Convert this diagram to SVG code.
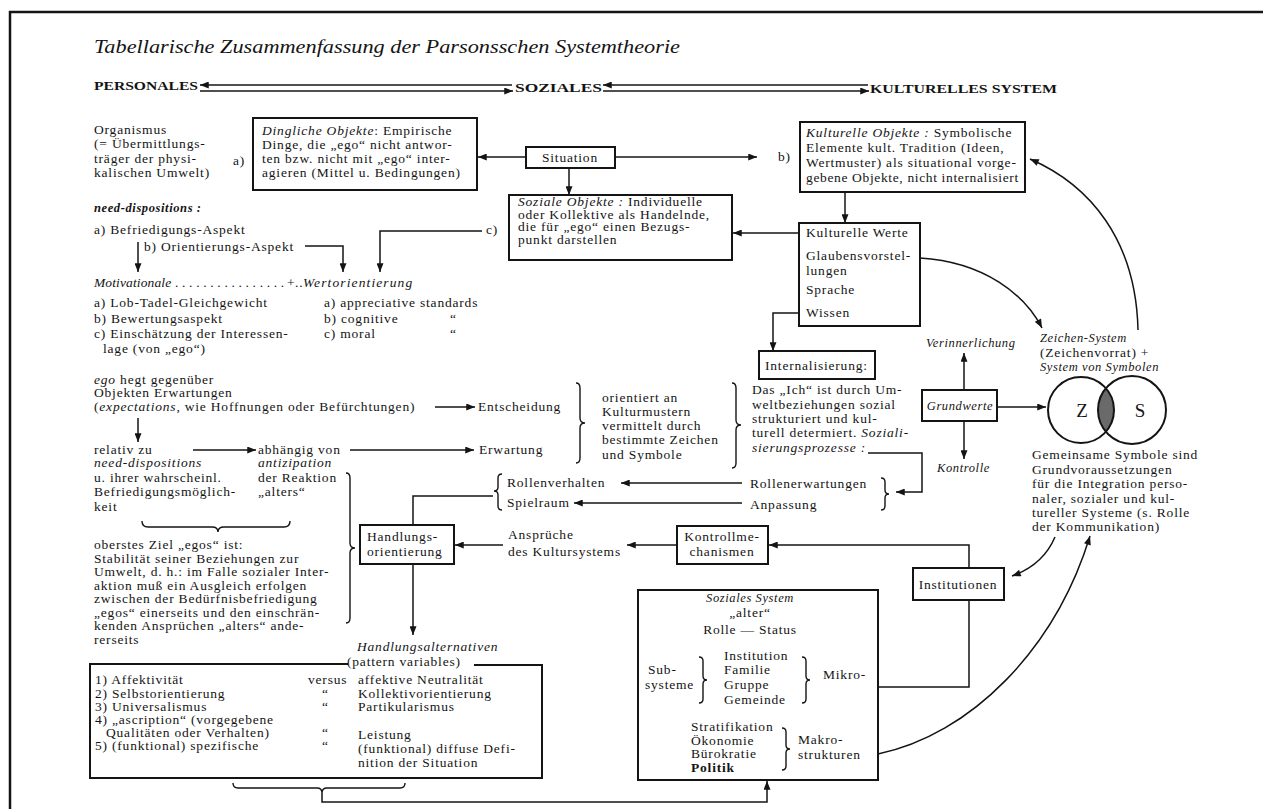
<svg xmlns="http://www.w3.org/2000/svg" width="1263" height="809" viewBox="0 0 1263 809">
  <style>
    text { font-family: "Liberation Serif", "Times New Roman", serif; font-size: 13.5px; letter-spacing: 0.8px; fill: #141414; }
    .i { font-style: italic; }
    .b { font-weight: bold; }
    .cap { font-size: 13px; letter-spacing: 0; font-weight: bold; }
    .m { text-anchor: middle; }
    .sm { font-size: 12.5px; letter-spacing: 0.6px; }
    .box { fill: #fff; stroke: #141414; stroke-width: 2; }
    .ln { fill: none; stroke: #141414; stroke-width: 1.5; }
    .ar { fill: none; stroke: #141414; stroke-width: 1.5; marker-end: url(#arrow); }
    .br { fill: none; stroke: #141414; stroke-width: 1.4; }
  </style>
  <defs>
    <marker id="arrow" viewBox="0 0 10 8" refX="10" refY="4" markerWidth="10" markerHeight="7" markerUnits="userSpaceOnUse" orient="auto">
      <path d="M0,0 L10,4 L0,8 z" fill="#141414"/>
    </marker>
    <clipPath id="zclip"><circle cx="1081" cy="410" r="33"/></clipPath>
  </defs>

  <rect width="1263" height="809" fill="#fff"/>
  <!-- page frame -->
  <path d="M10,809 V12 H1263" fill="none" stroke="#141414" stroke-width="2.5"/>

  <text x="94" y="53" class="i" style="font-size:18px;letter-spacing:0" textLength="586" lengthAdjust="spacingAndGlyphs">Tabellarische Zusammenfassung der Parsonsschen Systemtheorie</text>

  <!-- system headings -->
  <g id="personales"><text x="94" y="90" class="cap" textLength="104" lengthAdjust="spacingAndGlyphs">PERSONALES</text></g>
  <g id="soziales"><text x="515" y="92" class="cap" textLength="87" lengthAdjust="spacingAndGlyphs">SOZIALES</text></g>
  <g id="kulturelles"><text x="870" y="93" class="cap" textLength="187" lengthAdjust="spacingAndGlyphs">KULTURELLES SYSTEM</text></g>

  <!-- left column: organism and need-dispositions -->
  <g id="organismus">
    <text x="94" y="134">Organismus</text>
    <text x="94" y="148">(= Übermittlungs-</text>
    <text x="94" y="163">träger der physi-</text>
    <text x="94" y="177">kalischen Umwelt)</text>
  </g>
  <text x="233" y="165">a)</text>

  <g id="dingliche">
    <rect class="box" x="253" y="118" width="224" height="72"/>
    <text x="262" y="135"><tspan class="i">Dingliche Objekte</tspan>: Empirische</text>
    <text x="262" y="149">Dinge, die „ego“ nicht antwor-</text>
    <text x="262" y="163">ten bzw. nicht mit „ego“ inter-</text>
    <text x="262" y="177">agieren (Mittel u. Bedingungen)</text>
  </g>

  <g id="situation">
    <rect class="box" x="526" y="147" width="89" height="21"/>
    <text x="570" y="162" class="m">Situation</text>
  </g>
  <text x="778" y="161">b)</text>

  <g id="kulturelle-objekte">
    <rect class="box" x="800" y="122" width="225" height="70"/>
    <text x="806" y="137"><tspan class="i">Kulturelle Objekte :</tspan> Symbolische</text>
    <text x="806" y="152">Elemente kult. Tradition (Ideen,</text>
    <text x="806" y="167">Wertmuster) als situational vorge-</text>
    <text x="806" y="182" textLength="213">gebene Objekte, nicht internalisiert</text>
  </g>

  <g id="soziale-objekte">
    <rect class="box" x="509" y="195" width="223" height="65"/>
    <text x="518" y="206"><tspan class="i">Soziale Objekte :</tspan> Individuelle</text>
    <text x="518" y="218.5">oder Kollektive als Handelnde,</text>
    <text x="518" y="231">die für „ego“ einen Bezugs-</text>
    <text x="518" y="243.5">punkt darstellen</text>
  </g>
  <text x="486" y="234">c)</text>

  <g id="need-dispositions">
    <text x="94" y="212" class="i b sm">need-dispositions :</text>
    <text x="94" y="234">a) Befriedigungs-Aspekt</text>
    <text x="144" y="251">b) Orientierungs-Aspekt</text>
  </g>

  <g id="motivationale">
    <text x="94" y="287" class="i" textLength="78">Motivationale</text>
    <text x="175" y="287" textLength="110">................</text>
    <text x="287" y="287">+</text>
    <text x="295" y="287">..</text>
    <text x="303" y="287" class="i" textLength="110">Wertorientierung</text>
    <text x="94" y="307">a) Lob-Tadel-Gleichgewicht</text>
    <text x="94" y="323">b) Bewertungsaspekt</text>
    <text x="94" y="338">c) Einschätzung der Interessen-</text>
    <text x="103" y="353">lage (von „ego“)</text>
    <text x="324" y="307">a) appreciative standards</text>
    <text x="324" y="323">b) cognitive</text>
    <text x="324" y="338">c) moral</text>
    <text x="450" y="323">“</text>
    <text x="450" y="338">“</text>
  </g>

  <g id="ego-erwartungen">
    <text x="94" y="384"><tspan class="i">ego</tspan> hegt gegenüber</text>
    <text x="94" y="397">Objekten Erwartungen</text>
    <text x="94" y="411">(<tspan class="i">expectations</tspan>, wie Hoffnungen oder Befürchtungen)</text>
  </g>
  <g id="entscheidung"><text x="478" y="411">Entscheidung</text></g>

  <g id="relativ">
    <text x="94" y="454">relativ zu</text>
    <text x="94" y="467" class="i">need-dispositions</text>
    <text x="94" y="482">u. ihrer wahrscheinl.</text>
    <text x="94" y="496">Befriedigungsmöglich-</text>
    <text x="94" y="511">keit</text>
  </g>
  <g id="abhaengig">
    <text x="258" y="454">abhängig von</text>
    <text x="258" y="467" class="i">antizipation</text>
    <text x="258" y="482">der Reaktion</text>
    <text x="258" y="496">„alters“</text>
  </g>
  <g id="erwartung"><text x="479" y="454">Erwartung</text></g>

  <g id="oberstes-ziel">
    <text x="94" y="549">oberstes Ziel „egos“ ist:</text>
    <text x="94" y="562.5">Stabilität seiner Beziehungen zur</text>
    <text x="94" y="576">Umwelt, d. h.: im Falle sozialer Inter-</text>
    <text x="94" y="589.5">aktion muß ein Ausgleich erfolgen</text>
    <text x="94" y="603">zwischen der Bedürfnisbefriedigung</text>
    <text x="94" y="616.5">„egos“ einerseits und den einschrän-</text>
    <text x="94" y="630">kenden Ansprüchen „alters“ ande-</text>
    <text x="94" y="643.5">rerseits</text>
  </g>

  <g id="handlungsorientierung">
    <rect class="box" x="360" y="525" width="94" height="39"/>
    <text x="367" y="541">Handlungs-</text>
    <text x="367" y="556">orientierung</text>
  </g>

  <g id="handlungsalternativen">
    <text x="357" y="651" class="i">Handlungsalternativen</text>
    <text x="347" y="666">(pattern variables)</text>
    <path d="M348,664 H90 V778 H542 V665 H474" fill="none" stroke="#141414" stroke-width="2"/>
    <text x="95" y="684">1) Affektivität</text>
    <text x="95" y="697.5">2) Selbstorientierung</text>
    <text x="95" y="711">3) Universalismus</text>
    <text x="95" y="724">4) „ascription“ (vorgegebene</text>
    <text x="106" y="737">Qualitäten oder Verhalten)</text>
    <text x="95" y="750">5) (funktional) spezifische</text>
    <text x="308" y="684">versus</text>
    <text x="322" y="697.5">“</text>
    <text x="322" y="711">“</text>
    <text x="322" y="737">“</text>
    <text x="322" y="750">“</text>
    <text x="358" y="684">affektive Neutralität</text>
    <text x="358" y="697.5">Kollektivorientierung</text>
    <text x="358" y="711">Partikularismus</text>
    <text x="358" y="739">Leistung</text>
    <text x="358" y="753">(funktional) diffuse Defi-</text>
    <text x="358" y="767">nition der Situation</text>
  </g>

  <g id="rollen">
    <text x="507" y="487">Rollenverhalten</text>
    <text x="507" y="507">Spielraum</text>
    <path class="br" d="M502,474 Q498,474 498,478 V487 Q498,491 494,491 Q498,491 498,495 V506 Q498,510 502,510"/>
  </g>
  <g id="rollenerwartungen">
    <text x="750" y="488">Rollenerwartungen</text>
    <text x="750" y="509">Anpassung</text>
    <path class="br" d="M881,478 Q885,478 885,482 V490 Q885,494 889,494 Q885,494 885,498 V506 Q885,510 881,510"/>
  </g>

  <g id="orientiert">
    <path class="br" d="M576,383 Q580,383 580,388 V418 Q580,423 585,423 Q580,423 580,428 V458 Q580,463 576,463"/>
    <text x="602" y="402">orientiert an</text>
    <text x="602" y="416">Kulturmustern</text>
    <text x="602" y="429.5">vermittelt durch</text>
    <text x="602" y="444">bestimmte Zeichen</text>
    <text x="602" y="459">und Symbole</text>
    <path class="br" d="M732,383 Q736,383 736,388 V420 Q736,425 741,425 Q736,425 736,430 V463 Q736,468 732,468"/>
  </g>

  <g id="das-ich">
    <text x="752" y="394">Das „Ich“ ist durch Um-</text>
    <text x="752" y="408.5">weltbeziehungen sozial</text>
    <text x="752" y="422.5">strukturiert und kul-</text>
    <text x="752" y="437">turell determiert. <tspan class="i">Soziali-</tspan></text>
    <text x="752" y="452" class="i">sierungsprozesse :</text>
  </g>

  <g id="internalisierung">
    <rect class="box" x="759" y="351" width="116" height="28"/>
    <text x="765" y="370">Internalisierung:</text>
  </g>

  <g id="kulturelle-werte">
    <rect class="box" x="799" y="223" width="121" height="103"/>
    <text x="806" y="237">Kulturelle Werte</text>
    <text x="806" y="260">Glaubensvorstel-</text>
    <text x="806" y="275">lungen</text>
    <text x="806" y="294">Sprache</text>
    <text x="806" y="317">Wissen</text>
  </g>

  <g id="grundwerte">
    <rect class="box" x="922" y="390" width="75" height="31"/>
    <text x="960" y="410" class="i m sm">Grundwerte</text>
    <text x="926" y="347" class="i sm">Verinnerlichung</text>
    <text x="937" y="472" class="i sm">Kontrolle</text>
  </g>

  <g id="zeichen-system">
    <text x="1040" y="342" class="i sm">Zeichen-System</text>
    <text x="1040" y="356.5">(Zeichenvorrat) +</text>
    <text x="1040" y="371" class="i sm">System von Symbolen</text>
    <circle cx="1132" cy="410" r="34" fill="#6a6a6a" clip-path="url(#zclip)"/>
    <circle cx="1081" cy="410" r="33" fill="none" stroke="#141414" stroke-width="2"/>
    <circle cx="1132" cy="410" r="34" fill="none" stroke="#141414" stroke-width="2"/>
    <text x="1082" y="417" class="m" style="font-size:19px;letter-spacing:0">Z</text>
    <text x="1140" y="417" class="m" style="font-size:19px;letter-spacing:0">S</text>
  </g>

  <g id="gemeinsame-symbole">
    <text x="1032" y="459">Gemeinsame Symbole sind</text>
    <text x="1032" y="473.5">Grundvoraussetzungen</text>
    <text x="1032" y="488">für die Integration perso-</text>
    <text x="1032" y="502.5">naler, sozialer und kul-</text>
    <text x="1032" y="517">tureller Systeme (s. Rolle</text>
    <text x="1032" y="531">der Kommunikation)</text>
  </g>

  <g id="ansprueche">
    <text x="508" y="539">Ansprüche</text>
    <text x="508" y="556">des Kultursystems</text>
  </g>

  <g id="kontrollmechanismen">
    <rect class="box" x="677" y="526" width="91" height="38"/>
    <text x="722" y="541" class="m">Kontrollme-</text>
    <text x="722" y="556" class="m">chanismen</text>
  </g>

  <g id="institutionen">
    <rect class="box" x="913" y="568" width="91" height="32"/>
    <text x="958" y="589" class="m">Institutionen</text>
  </g>

  <g id="soziales-system">
    <rect class="box" x="638" y="590" width="240" height="190"/>
    <text x="750" y="602" class="i m sm">Soziales System</text>
    <text x="750" y="617" class="m">„alter“</text>
    <text x="750" y="634" class="m">Rolle — Status</text>
    <text x="648" y="674">Sub-</text>
    <text x="645" y="689">systeme</text>
    <path class="br" d="M699,657 Q703,657 703,661 V676 Q703,680 707,680 Q703,680 703,684 V699 Q703,703 699,703"/>
    <text x="724" y="660">Institution</text>
    <text x="724" y="674">Familie</text>
    <text x="724" y="689">Gruppe</text>
    <text x="724" y="704">Gemeinde</text>
    <path class="br" d="M802,657 Q806,657 806,661 V676 Q806,680 810,680 Q806,680 806,684 V699 Q806,703 802,703"/>
    <text x="823" y="679">Mikro-</text>
    <text x="691" y="731">Stratifikation</text>
    <text x="691" y="744.5">Ökonomie</text>
    <text x="691" y="758">Bürokratie</text>
    <text x="691" y="772" class="b">Politik</text>
    <path class="br" d="M782,728 Q786,728 786,732 V745 Q786,749 790,749 Q786,749 786,753 V766 Q786,770 782,770"/>
    <text x="798" y="744">Makro-</text>
    <text x="798" y="759">strukturen</text>
  </g>

  <!-- connectors -->
  <g id="connectors">
    <!-- heading arrows -->
    <path class="ar" d="M512,85 H200"/>
    <path class="ar" d="M200,91 H513"/>
    <path class="ar" d="M868,85 H603"/>
    <path class="ar" d="M603,91 H869"/>
    <!-- situation -->
    <path class="ar" d="M526,157 H478"/>
    <path class="ar" d="M615,157 H757"/>
    <path class="ar" d="M569,168 V195"/>
    <!-- cultural side -->
    <path class="ar" d="M845,192 V223"/>
    <path class="ar" d="M799,233 H733"/>
    <path class="ar" d="M799,313 H773 V351"/>
    <path class="ar" d="M482,231 H380 V272"/>
    <path class="ar" d="M305,246 H343 V272"/>
    <path class="ar" d="M138,242 V272"/>
    <path class="ar" d="M920,258 C985,262 1025,295 1042,328"/>
    <path class="ar" d="M1138,330 C1136,240 1090,185 1030,159"/>
    <!-- Grundwerte -->
    <path class="ar" d="M997,407 H1046"/>
    <path class="ar" d="M964,390 V353"/>
    <path class="ar" d="M964,421 V459"/>
    <!-- expectations -->
    <path class="ar" d="M435,407 H475"/>
    <path class="ar" d="M138,418 V442"/>
    <path class="ar" d="M193,450 H256"/>
    <path class="ar" d="M350,450 H474"/>
    <path class="br" d="M142,521 Q142,527 148,527 H212 Q218,527 218,532 Q218,527 224,527 H284 Q290,527 290,521"/>
    <path class="br" d="M346,473 Q350,473 350,478 V543 Q350,548 355,548 Q350,548 350,553 V618 Q350,623 346,623"/>
    <!-- roles -->
    <path class="ar" d="M742,483 H621"/>
    <path class="ar" d="M742,503 H574"/>
    <path class="ar" d="M868,453 H922 V492 H896"/>
    <path class="ln" d="M493,496 H413 V525"/>
    <path class="ar" d="M413,564 V635"/>
    <!-- control -->
    <path class="ar" d="M503,545 H455"/>
    <path class="ar" d="M677,545 H627"/>
    <path class="ar" d="M969,568 V545 H769"/>
    <path class="ln" d="M969,600 V687 H878"/>
    <path class="ar" d="M1055,537 Q1043,565 1012,576"/>
    <path class="ar" d="M878,754 C970,735 1055,650 1090,536"/>
    <!-- pattern variables to social system -->
    <path class="br" d="M233,783 Q233,788 238,788 H317 Q322,788 322,793 Q322,788 327,788 H400 Q405,788 405,783"/>
    <path class="ar" d="M322,793 V802 H767 V781"/>
  </g>
</svg>
